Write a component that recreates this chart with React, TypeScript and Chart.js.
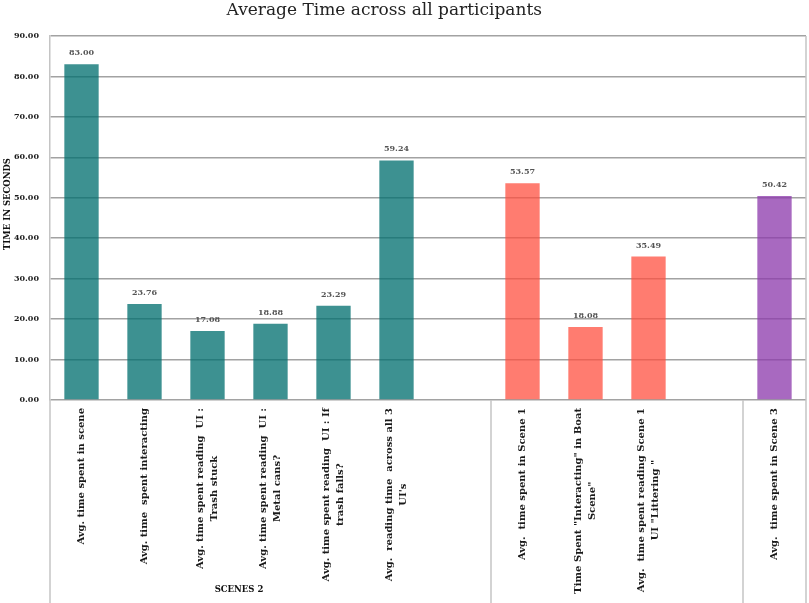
import React, { useEffect, useRef } from "react";
import { Chart, registerables } from "chart.js";

Chart.register(...registerables);

const chartTitle = "Average Time across all participants";
const yAxisTitle = "TIME IN SECONDS";

const categories: string[][] = [
  ["Avg. time spent in scene"],
  ["Avg. time  spent interacting"],
  ["Avg. time spent reading  UI :", "Trash stuck"],
  ["Avg. time spent reading  UI :", "Metal cans?"],
  ["Avg. time spent reading  UI : If", "trash falls?"],
  ["Avg.  reading time  across all 3", "UI's"],
  [""],
  ["Avg.  time spent in Scene 1"],
  ["Time Spent \"Interacting\" in Boat", "Scene\""],
  ["Avg.  time spent reading Scene 1", "UI \"Littering \""],
  [""],
  ["Avg.  time spent in Scene 3"],
];

const values: (number | null)[] = [
  83.0, 23.76, 17.08, 18.88, 23.29, 59.24, null, 53.57, 18.08, 35.49, null, 50.42,
];

const yMin = 0;
const yMax = 90;
const yStep = 10;

// category boundaries where the group separators sit
const groupBoundaries = [0, 7, 11, 12];
const groupNames = [{ name: "SCENES 2", first: 0, last: 5 }];

const TEAL = "rgba(0,110,110,0.76)";
const SALMON = "rgba(255,78,62,0.74)";
const PURPLE = "rgba(140,58,172,0.76)";
const barColors = [TEAL, TEAL, TEAL, TEAL, TEAL, TEAL, TEAL, SALMON, SALMON, SALMON, SALMON, PURPLE];

const FONT = '"DejaVu Serif", "Liberation Serif", serif';

const overlayPlugin = {
  id: "overlay",
  afterDraw(chart: any) {
    const { ctx, chartArea, scales } = chart;
    const xs = scales.x;
    const H = chart.height;
    ctx.save();

    // title
    ctx.fillStyle = "#222";
    ctx.font = `17px ${FONT}`;
    ctx.textAlign = "center";
    ctx.textBaseline = "middle";
    ctx.fillText(chartTitle, chart.width * 0.475, 11);

    // y axis title
    ctx.save();
    ctx.font = `bold 8.5px ${FONT}`;
    ctx.fillStyle = "#111";
    ctx.translate(8, 204);
    ctx.rotate(-Math.PI / 2);
    ctx.fillText(yAxisTitle, 0, 0);
    ctx.restore();

    // value labels
    const meta = chart.getDatasetMeta(0);
    ctx.font = `bold 8px ${FONT}`;
    ctx.fillStyle = "#555";
    meta.data.forEach((el: any, i: number) => {
      const v = values[i];
      if (v == null) return;
      ctx.fillText(v.toFixed(2), el.x, el.y - 11);
    });

    // category labels (rotated, lines centered in block)
    ctx.font = `bold 10px ${FONT}`;
    ctx.fillStyle = "#1a1a1a";
    const lh = 14.5;
    categories.forEach((lines, i) => {
      if (!lines.join("")) return;
      const x = xs.getPixelForValue(i);
      const w = Math.max(...lines.map((l) => ctx.measureText(l).width));
      ctx.save();
      ctx.translate(x, chartArea.bottom + 8);
      ctx.rotate(-Math.PI / 2);
      lines.forEach((l, k) => {
        ctx.fillText(l, -w / 2, (k - (lines.length - 1) / 2) * lh);
      });
      ctx.restore();
    });

    const bx = (b: number) =>
      b <= 0
        ? chartArea.left
        : b >= categories.length
        ? chartArea.right
        : (xs.getPixelForValue(b - 1) + xs.getPixelForValue(b)) / 2;

    // separators
    ctx.strokeStyle = "#c4c4c4";
    ctx.lineWidth = 1.5;
    groupBoundaries.forEach((b) => {
      const x = bx(b);
      ctx.beginPath();
      ctx.moveTo(x, chartArea.bottom);
      ctx.lineTo(x, H);
      ctx.stroke();
    });
    // right plot border
    ctx.beginPath();
    ctx.moveTo(chartArea.right, chartArea.top);
    ctx.lineTo(chartArea.right, chartArea.bottom);
    ctx.stroke();

    // group names
    ctx.font = `bold 8.5px ${FONT}`;
    ctx.fillStyle = "#111";
    groupNames.forEach((g) => {
      const x = (bx(g.first) + bx(g.last + 1)) / 2;
      ctx.fillText(g.name, x, H - 13);
    });

    ctx.restore();
  },
};

export default function App() {
  const ref = useRef<HTMLCanvasElement | null>(null);

  useEffect(() => {
    document.body.style.margin = "0";
    if (!ref.current) return;
    const chart = new Chart(ref.current, {
      type: "bar",
      data: {
        labels: categories.map((c) => c.join(" ")),
        datasets: [
          {
            data: values as any,
            backgroundColor: barColors,
            borderWidth: 0,
            categoryPercentage: 1,
            barPercentage: 0.545,
          },
        ],
      },
      options: {
        animation: false,
        responsive: true,
        maintainAspectRatio: false,
        layout: { padding: { top: 36, right: 3, left: 0, bottom: 0 } },
        plugins: {
          legend: { display: false },
          title: { display: false },
          tooltip: { enabled: false },
        },
        scales: {
          x: {
            grid: { display: false },
            border: { display: false },
            ticks: { display: false },
            afterFit: (scale: any) => {
              scale.height = 203;
            },
          },
          y: {
            min: yMin,
            max: yMax,
            ticks: {
              stepSize: yStep,
              padding: 11,
              color: "#1a1a1a",
              font: { family: FONT, size: 8, weight: "bold" },
              callback: (v: any) => Number(v).toFixed(2),
            },
            grid: { color: "#a2a2a2", lineWidth: 1.5, drawTicks: false },
            border: { display: true, color: "#c4c4c4", width: 1.5 },
            title: { display: false, text: yAxisTitle },
            afterFit: (scale: any) => {
              scale.width = 50;
            },
          },
        },
      },
      plugins: [overlayPlugin],
    });
    return () => chart.destroy();
  }, []);

  return (
    <div style={{ position: "relative", width: 809, height: 603 }}>
      <canvas ref={ref} />
    </div>
  );
}
